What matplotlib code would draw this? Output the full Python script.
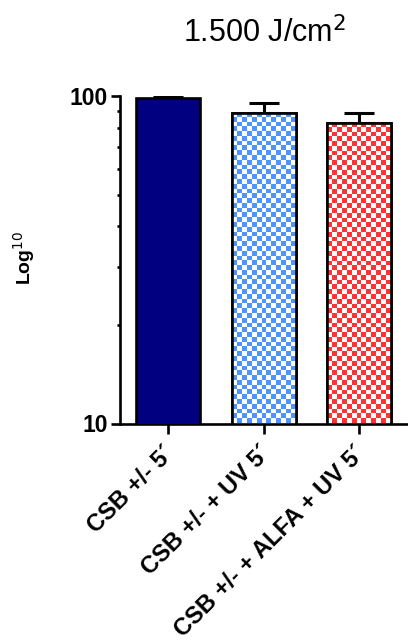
import numpy as np
import matplotlib
matplotlib.use("Agg")
import matplotlib.pyplot as plt
from matplotlib.colors import ListedColormap
from matplotlib.transforms import ScaledTranslation

plt.rcParams['font.family'] = ['Liberation Sans', 'DejaVu Sans']

# ---- data ----
categories = ["CSB +/- 5´", "CSB +/- + UV 5´", "CSB +/- + ALFA + UV 5´"]
means = [98.3, 88.5, 82.9]
err_up = [1.3, 6.5, 6.0]
title = "1.500 J/cm$^{2}$"
ylabel = "Log$^{10}$"
y_ticks = [10, 100]

# ---- styles ----
fill_colors = ["#000080", "#4d94ff", "#ff3333"]
checkered = [False, True, True]
cell_px = 4.8

W, H, DPI = 408, 643, 100
fig = plt.figure(figsize=(W / DPI, H / DPI), dpi=DPI)
ax = fig.add_axes([119.5 / W, 1 - 423.5 / H, (W - 119.5) / W, (423.5 - 96) / H])

x = np.arange(len(categories))
ax.set_yscale('log')
ax.set_ylim(10, 100)
ax.set_xlim(-0.51, 2.51)

bars = ax.bar(x, means, width=0.667, bottom=0.0001, color=fill_colors,
              edgecolor='black', linewidth=1.9, zorder=3)
ax.errorbar(x, means, yerr=[np.zeros(len(means)), err_up], fmt='none',
            ecolor='black', elinewidth=2.2, capsize=11, capthick=2.2, zorder=2)

# checkerboard fill for patterned bars, laid out in axes-fraction space
to_axes = ax.transData + ax.transAxes.inverted()
ax_w_px = ax.get_position().width * W
ax_h_px = ax.get_position().height * H
for bar, col, chk in zip(bars, fill_colors, checkered):
    if not chk:
        continue
    bar.set_facecolor('white')
    x0, x1 = bar.get_x(), bar.get_x() + bar.get_width()
    (ax0, ay0), (ax1, ay1) = to_axes.transform([(x0, 10), (x1, bar.get_height())])
    nx = int(round((ax1 - ax0) * ax_w_px / cell_px))
    ny = int(round((ay1 - ay0) * ax_h_px / cell_px))
    ii, jj = np.indices((ny, nx))
    pattern = (ii + jj) % 2
    im = ax.imshow(pattern, cmap=ListedColormap(['white', col]),
                   extent=[ax0, ax1, ay0, ay1], transform=ax.transAxes,
                   interpolation='nearest', aspect='auto', zorder=3.5)
    im.set_clip_path(bar)
    outline = plt.Rectangle((x0, 10), bar.get_width(), bar.get_height() - 10,
                            fill=False, edgecolor='black', linewidth=1.9, zorder=4)
    ax.add_patch(outline)

for s in ['top', 'right']:
    ax.spines[s].set_visible(False)
for s in ['left', 'bottom']:
    ax.spines[s].set_linewidth(1.9)

ax.set_yticks(y_ticks)
ax.set_yticklabels([str(v) for v in y_ticks], fontsize=16.5, fontweight='bold')
ax.tick_params(axis='y', which='major', length=6.5, width=1.9, pad=2)
ax.tick_params(axis='y', which='minor', length=2.3, width=1.9, labelleft=False)
ax.set_xticks(x)
ax.set_xticklabels(categories, fontsize=17, fontweight='bold', rotation=45,
                   ha='right', va='top', rotation_mode='anchor')
ax.tick_params(axis='x', length=7, width=1.9, pad=6)
shift = ScaledTranslation(-5 / DPI, 0, fig.dpi_scale_trans)
for lbl in ax.get_xticklabels():
    lbl.set_transform(lbl.get_transform() + shift)

fig.text(264 / W, 1 - 33 / H, title, fontsize=22, ha='center', va='center')
fig.text(24 / W, 1 - 258 / H, ylabel, fontsize=14, fontweight='bold',
         rotation=90, ha='center', va='center')

fig.savefig("out.png", dpi=DPI)
